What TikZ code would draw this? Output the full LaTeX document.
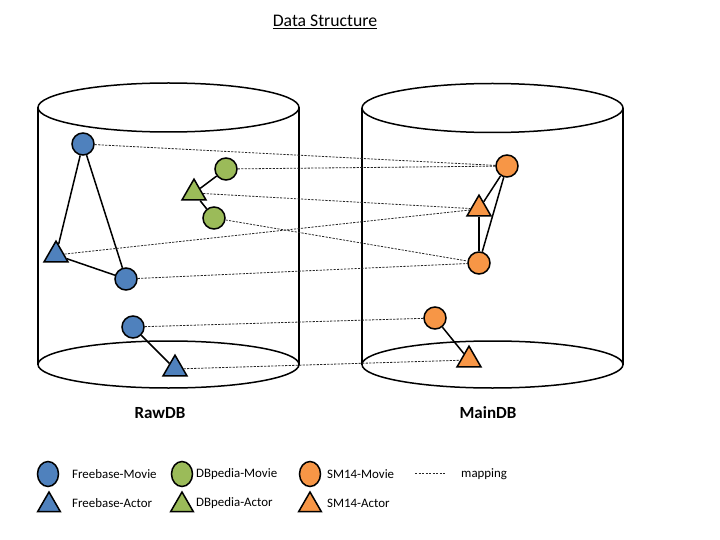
\documentclass[tikz,border=0pt]{standalone}
\usepackage{fontspec}
\setmainfont{Carlito}
\usetikzlibrary{shapes.geometric,backgrounds}
\definecolor{fbblue}{HTML}{4F81BD}
\definecolor{dbgreen}{HTML}{9BBB59}
\definecolor{smorange}{HTML}{F79646}
\tikzset{
  mov/.style={circle,draw=black,line width=1.5pt,minimum size=22pt,inner sep=0pt},
  act/.style={regular polygon,regular polygon sides=3,draw=black,line width=1.5pt,minimum size=27.7pt,inner sep=0pt},
  lmov/.style={ellipse,draw=black,line width=1.5pt,minimum width=21pt,minimum height=25pt,inner sep=0pt},
  lact/.style={regular polygon,regular polygon sides=3,draw=black,line width=1.5pt,minimum size=26pt,inner sep=0pt},
  link/.style={line width=1.5pt},
  mapline/.style={dash pattern=on 2.2pt off 1.3pt,line width=0.8pt,black!85},
  cyl/.style={line width=1.5pt},
  legtxt/.style={anchor=west,font=\fontsize{12.9}{15}\selectfont,inner sep=0pt},
  dblabel/.style={font=\fontsize{17}{20}\selectfont\bfseries,inner sep=0pt}
}
\begin{document}
\begin{tikzpicture}[x=1pt,y=-1pt]
\useasboundingbox (0,0) rectangle (720,540);
% title
\node[inner sep=0pt,font=\fontsize{17.7}{20}\selectfont] (title) at (325,22) {\underline{Data Structure}};
% nodes left
\node[mov,fill=fbblue] (fm1) at (83,144) {};
\node[act,fill=fbblue] (fa1) at (56,255) {};
\node[mov,fill=fbblue] (fm2) at (126,279) {};
\node[mov,fill=dbgreen] (dm1) at (226,169) {};
\node[act,fill=dbgreen] (da1) at (194,193) {};
\node[mov,fill=dbgreen] (dm2) at (214,218) {};
\node[mov,fill=fbblue] (fm3) at (133,327) {};
\node[act,fill=fbblue] (fa2) at (175,369) {};
% nodes right
\node[mov,fill=smorange] (sm1) at (507,166) {};
\node[act,fill=smorange] (sa1) at (479,209) {};
\node[mov,fill=smorange] (sm2) at (479,263) {};
\node[mov,fill=smorange] (sm3) at (435,318) {};
\node[act,fill=smorange] (sa2) at (469,360) {};
% labels
\node[dblabel] (raw) at (160,413) {RawDB};
\node[dblabel] (main) at (488,413) {MainDB};
% legend
\node[lmov,fill=fbblue] (l1) at (48,474) {};
\node[legtxt] (t1) at (72,474) {Freebase-Movie};
\node[lact,fill=fbblue] (l2) at (49,505) {};
\node[legtxt] (t2) at (72,503) {Freebase-Actor};
\node[lmov,fill=dbgreen] (l3) at (182,474) {};
\node[legtxt] (t3) at (196,474) {DBpedia-Movie};
\node[lact,fill=dbgreen] (l4) at (182,505) {};
\node[legtxt] (t4) at (196,503) {DBpedia-Actor};
\node[lmov,fill=smorange] (l5) at (310,474) {};
\node[legtxt] (t5) at (327,474) {SM14-Movie};
\node[lact,fill=smorange] (l6) at (310,505) {};
\node[legtxt] (t6) at (327,503) {SM14-Actor};
\coordinate (d1) at (415,473);
\coordinate (d2) at (445,473);
\node[legtxt] (t7) at (461,474) {mapping};
\begin{scope}[on background layer]
  % cylinders
  \draw[cyl] (168.5,107.5) ellipse [x radius=130.5,y radius=24.5];
  \draw[cyl] (168.5,364.5) ellipse [x radius=130.5,y radius=23.5];
  \draw[cyl] (38,107.5) -- (38,364.5);
  \draw[cyl] (299,107.5) -- (299,364.5);
  \draw[cyl] (492.5,108) ellipse [x radius=130.5,y radius=24.5];
  \draw[cyl] (492.5,364.5) ellipse [x radius=130.5,y radius=23.5];
  \draw[cyl] (362,108) -- (362,364.5);
  \draw[cyl] (623,108) -- (623,364.5);
  % solid links
  \draw[link] (fm1) -- (fa1);
  \draw[link] (fm1) -- (fm2);
  \draw[link] (fa1) -- (fm2);
  \draw[link] (dm1) -- (da1);
  \draw[link] (da1) -- (dm2);
  \draw[link] (fm3) -- (fa2);
  \draw[link] (sm1) -- (sa1);
  \draw[link] (sm1) -- (sm2);
  \draw[link] (sa1) -- (sm2);
  \draw[link] (sm3) -- (sa2);
  % mappings
  \draw[mapline] (fm1) -- (sm1);
  \draw[mapline] (dm1) -- (sm1);
  \draw[mapline] (da1) -- (sa1);
  \draw[mapline] (fa1) -- (sa1);
  \draw[mapline] (dm2) -- (sm2);
  \draw[mapline] (fm2) -- (sm2);
  \draw[mapline] (fm3) -- (sm3);
  \draw[mapline] (fa2) -- (sa2);
  \draw[mapline] (d1) -- (d2);
\end{scope}
\end{tikzpicture}
\end{document}
